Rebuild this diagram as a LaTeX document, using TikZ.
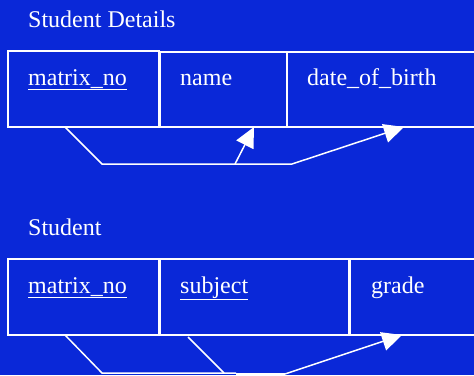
\documentclass[tikz,border=0pt]{standalone}
\usepackage{fontspec}
\setmainfont{Liberation Serif}
\usetikzlibrary{arrows.meta}
\definecolor{bg}{RGB}{10,40,216}
\tikzset{
  cell/.style={draw=white, line width=1.5pt},
  lbl/.style={anchor=base west, text=white, font=\fontsize{24}{28}\selectfont, inner sep=0pt},
  conn/.style={draw=white, line width=1.5pt},
  arr/.style={conn, -{Triangle[length=20pt,width=19pt]}},
}
\begin{document}
\begin{tikzpicture}[x=1pt,y=-1pt]
\fill[bg] (0,0) rectangle (474,375);
\useasboundingbox (0,0) rectangle (474,375);
% Student Details
\node[lbl] (t1) at (28,27) {Student Details};
\draw[cell] (8,51) rectangle (159,127);
\draw[cell] (160,52) rectangle (287,127);
\draw[cell] (287,52) rectangle (480,127);
\node[lbl] (a1) at (28,85) {\underline{matrix\_no}};
\node[lbl] (a2) at (180,85) {name};
\node[lbl] (a3) at (307,85) {date\_of\_birth};
\coordinate (s1) at (65,127);
\coordinate (b1) at (102,164);
\coordinate (j1) at (235,164);
\coordinate (e1) at (292,164);
\coordinate (n1) at (254,127);
\coordinate (d1) at (404,127);
\draw[conn] (s1) -- (b1) -- (e1);
\draw[arr] (j1) -- (n1);
\draw[arr] (e1) -- (d1);
% Student
\node[lbl] (t2) at (28,235) {Student};
\draw[cell] (8,259) rectangle (159,335);
\draw[cell] (160,259) rectangle (349,335);
\draw[cell] (350,259) rectangle (480,335);
\node[lbl] (b1l) at (28,293) {\underline{matrix\_no}};
\node[lbl] (b2l) at (180,293) {\underline{subject}};
\node[lbl] (b3l) at (371,293) {grade};
\coordinate (s2) at (65,335);
\coordinate (m2) at (102,373);
\coordinate (k2) at (236,373);
\coordinate (s3) at (188,337);
\coordinate (m3) at (224,373);
\coordinate (k3) at (236,374);
\coordinate (e2) at (285,374);
\coordinate (g2) at (402,335);
\draw[conn] (s2) -- (m2) -- (k2);
\draw[conn] (s3) -- (m3);
\draw[conn] (k3) -- (e2);
\draw[arr] (e2) -- (g2);
\end{tikzpicture}
\end{document}
